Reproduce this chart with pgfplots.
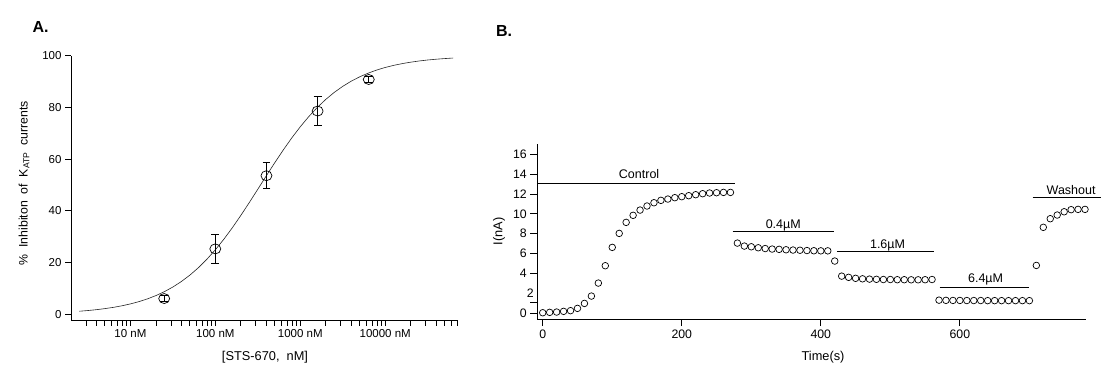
\documentclass[border=0pt]{standalone}
\usepackage{pgfplots}
\pgfplotsset{compat=1.18}
\usepackage{fontspec}
\setmainfont{Liberation Sans}
\begin{document}
\begin{tikzpicture}
\path[use as bounding box] (0,0) rectangle (1120pt,378pt);
\node[font=\bfseries\fontsize{16}{18}\selectfont] at (40.5pt,351pt) {A.};
\node[font=\bfseries\fontsize{16}{18}\selectfont] at (504pt,347pt) {B.};

\begin{axis}[
  at={(71pt,58pt)}, anchor=south west,
  scale only axis, width=386pt, height=264.3pt,
  xmode=log, xmin=2, xmax=70000, ymin=-2.2, ymax=100,
  axis x line=bottom, axis y line=left,
  axis line style={-, line width=1pt, black},
  tick align=outside, major tick length=6pt, minor tick length=5.5pt,
  tick style={black, line width=0.8pt},
  xtick={10,100,1000,10000},
  xticklabels={10 nM,100 nM,1000 nM,10000 nM},
  minor xtick={3,4,5,6,7,8,9,20,30,40,50,60,70,80,90,200,300,400,500,600,700,800,900,2000,3000,4000,5000,6000,7000,8000,9000,20000,30000,40000,50000,60000,70000},
  ytick={0,20,40,60,80,100},
  /pgf/number format/assume math mode=true,
  tick label style={font=\fontsize{11.5}{13}\selectfont},
  every axis x label/.style={at={(axis description cs:0.5026,-0.1426)}, anchor=center, font=\fontsize{12.8}{14}\selectfont},
  every axis y label/.style={at={(axis description cs:-0.1218,0.518)}, anchor=center, rotate=90, font=\fontsize{12.3}{14}\selectfont},
  xlabel={[STS-670,\ \ nM]},
  ylabel={\%\ \ Inhibiton\ \ of\ \ K\textsubscript{ATP}\ \ currents},
  clip=false,
]
\addplot[black!85, line width=0.6pt] coordinates {
(2.512,1.19) (3.162,1.46) (3.981,1.79) (5.012,2.20) (6.310,2.69) (7.943,3.29)
(10,4.02) (12.59,4.90) (15.85,5.96) (19.95,7.23) (25.12,8.75) (31.62,10.55)
(39.81,12.67) (50.12,15.14) (63.10,18.00) (79.43,21.26) (100,24.94)
(125.9,29.02) (158.5,33.46) (199.5,38.22) (251.2,43.22) (316.2,48.36)
(398.1,53.54) (501.2,58.64) (631.0,63.56) (794.3,68.21) (1000,72.52)
(1259,76.45) (1585,79.98) (1995,83.09) (2512,85.81) (3162,88.15)
(3981,90.15) (5012,91.84) (6310,93.26) (7943,94.46) (10000,95.45)
(12589,96.27) (15849,96.94) (19953,97.50) (25119,97.96) (31623,98.34)
(39811,98.64) (50119,98.89) (63096,99.10)
};
\addplot[only marks, mark=o, mark size=5pt, black, line width=0.7pt,
  mark options={xscale=1.1},
  error bars/.cd, y dir=both, y explicit,
  error bar style={line width=0.9pt, black},
  error mark options={rotate=90, line width=0.9pt, black, mark size=3.9pt}]
coordinates {
(25,6.1) +- (0,1.1)
(100,25.3) +- (0,5.6)
(400,53.6) +- (0,5.1)
(1600,78.6) +- (0,5.6)
(6400,90.8) +- (0,1.0)
};
\end{axis}

\begin{axis}[
  at={(537.3pt,59pt)}, anchor=south west,
  scale only axis, width=548.4pt, height=175pt,
  xmin=-7.8, xmax=781, ymin=-0.6, ymax=17.04,
  axis x line=bottom, axis y line=left,
  axis line style={-, line width=1pt, black},
  tick align=outside, major tick length=7pt,
  tick style={black, line width=0.8pt},
  xtick={0,200,400,600},
  ytick={0,1.1,4,6,8,10,12,14,16},
  yticklabels={0,,4,6,8,10,12,14,16},
  extra y ticks={2},
  extra y tick style={major tick length=0pt},
  /pgf/number format/assume math mode=true,
  tick label style={font=\fontsize{12.3}{14}\selectfont},
  every axis x label/.style={at={(axis description cs:0.521,-0.2154)}, anchor=center, font=\fontsize{12.8}{14}\selectfont},
  every axis y label/.style={at={(axis description cs:-0.0698,0.5)}, anchor=center, rotate=90, font=\fontsize{12.8}{14}\selectfont},
  xlabel={Time(s)},
  ylabel={I(nA)},
  clip=false,
]
\addplot[only marks, mark=o, mark size=3.3pt, black, line width=0.7pt] coordinates {
(0,0.03) (10,0.07) (20,0.10) (30,0.17) (40,0.24) (50,0.47) (60,0.97) (70,1.71)
(80,3.02) (90,4.77) (100,6.62) (110,8.03) (120,9.14) (130,9.85) (140,10.38)
(150,10.79) (160,11.12) (170,11.36) (180,11.49) (190,11.63) (200,11.73)
(210,11.83) (220,11.93) (230,12.03) (240,12.10) (250,12.13) (260,12.16) (270,12.16)
(280,7.05) (290,6.75) (300,6.68) (310,6.58) (320,6.50) (330,6.45) (340,6.42)
(350,6.38) (360,6.35) (370,6.33) (380,6.30) (390,6.28) (400,6.27) (410,6.27)
(420,5.24)
(430,3.72) (440,3.60) (450,3.50) (460,3.45) (470,3.42) (480,3.40) (490,3.38)
(500,3.38) (510,3.36) (520,3.36) (530,3.35) (540,3.35) (550,3.36) (560,3.38)
(570,1.30) (580,1.28) (590,1.27) (600,1.27) (610,1.26) (620,1.26) (630,1.26)
(640,1.25) (650,1.25) (660,1.25) (670,1.25) (680,1.25) (690,1.25) (700,1.25)
(710,4.80) (720,8.64) (730,9.51) (740,9.88) (750,10.21) (760,10.42) (770,10.45) (780,10.45)
};
\addplot[black, line width=0.8pt] coordinates {(-7.8,13.07) (277,13.07)};
\addplot[black, line width=0.8pt] coordinates {(273,8.2) (419,8.2)};
\addplot[black, line width=0.8pt] coordinates {(423,6.25) (563,6.25)};
\addplot[black, line width=0.8pt] coordinates {(571,2.59) (700,2.59)};
\addplot[black, line width=0.8pt] coordinates {(704.5,11.62) (803,11.62)};
\node[font=\fontsize{12.5}{14}\selectfont] at (axis cs:138.6,14.0) {Control};
\node[font=\fontsize{12.5}{14}\selectfont] at (axis cs:346,8.87) {0.4µM};
\node[font=\fontsize{12.5}{14}\selectfont] at (axis cs:496,6.78) {1.6µM};
\node[font=\fontsize{12.5}{14}\selectfont] at (axis cs:637,3.40) {6.4µM};
\node[font=\fontsize{12.5}{14}\selectfont] at (axis cs:760,12.43) {Washout};
\end{axis}
\end{tikzpicture}
\end{document}
